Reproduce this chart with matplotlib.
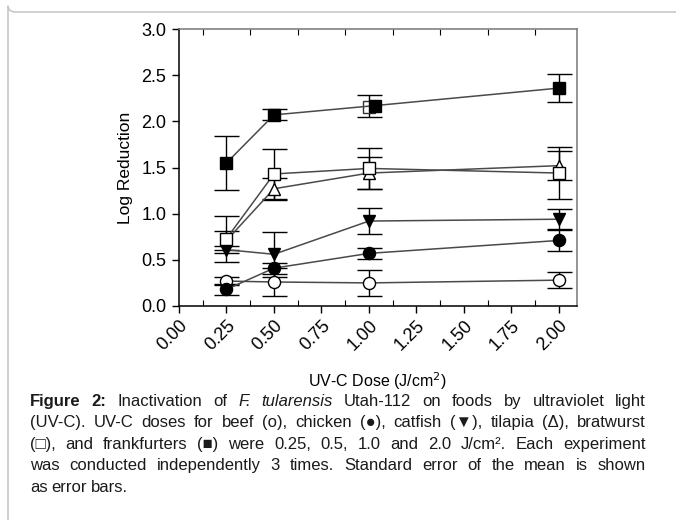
#!/usr/bin/env python3
import numpy as np
import matplotlib
matplotlib.use('Agg')
import matplotlib.pyplot as plt
from matplotlib.patches import FancyBboxPatch

# data (log reduction, SE)
doses = [0.25, 0.5, 1.0, 2.0]
beef = [0.27, 0.26, 0.25, 0.28]
beef_se = [0.04, 0.15, 0.14, 0.085]
chicken = [0.18, 0.41, 0.57, 0.71]
chicken_se = [0.06, 0.06, 0.06, 0.11]
catfish = [0.61, 0.56, 0.92, 0.94]
catfish_se = [0.04, 0.245, 0.14, 0.11]
tilapia = [0.71, 1.27, 1.44, 1.52]
tilapia_se = [0.10, 0.12, 0.17, 0.16]
bratwurst = [0.73, 1.43, 1.49, 1.44]
bratwurst_se = [0.25, 0.27, 0.22, 0.28]
frank_x = [0.25, 0.5, 1.03, 2.0]
frank = [1.55, 2.07, 2.17, 2.36]
frank_se = [0.29, 0.06, 0.12, 0.155]
extra_x = [1.0]
extra_y = [2.16]

xticks = [0, 0.25, 0.5, 0.75, 1.0, 1.25, 1.5, 1.75, 2.0]
yticks = [0, 0.5, 1.0, 1.5, 2.0, 2.5, 3.0]

plt.rcParams['font.family'] = ['Liberation Sans', 'DejaVu Sans']
cap_font = ['Liberation Sans', 'DejaVu Sans']
cap_size = 12

W, H = 676, 520
fig = plt.figure(figsize=(W/100, H/100), dpi=100)

# rounded panel frame
frame = FancyBboxPatch((8/W, 1-12/H), 700/W, -560/H, boxstyle='round,pad=0,rounding_size=0.012',
                       transform=fig.transFigure, fill=False, ec='#c8c8c8', lw=1.2)
fig.patches.append(frame)

ax = fig.add_axes([179/W, 1-306/H, (577-179)/W, (306-29)/H])

series = [
    (doses, beef, beef_se, 'o', 'white'),
    (doses, chicken, chicken_se, 'o', 'black'),
    (doses, catfish, catfish_se, 'v', 'black'),
    (doses, tilapia, tilapia_se, '^', 'white'),
    (doses, bratwurst, bratwurst_se, 's', 'white'),
    (frank_x, frank, frank_se, 's', 'black'),
]
ms = 8.7
for xs, ys, se, mk, fc in series:
    ax.errorbar(doses, ys, yerr=se, fmt='none', ecolor='black', elinewidth=1,
                capsize=9, capthick=1, zorder=2)
for xs, ys, se, mk, fc in series:
    if xs is frank_x:
        ax.plot(extra_x, extra_y, ls='none', marker='s', ms=ms, mfc='white', mec='#333333', mew=1, zorder=3)
    ax.plot(xs, ys, color='#4a4a4a', lw=1.1, marker=mk, ms=ms, mfc=fc, mec='black', mew=1, zorder=4)

ax.set_xlim(0, 2.095)
ax.set_ylim(0, 3.0)
ax.set_xticks(xticks)
ax.set_xticklabels(['%.2f' % v for v in xticks], rotation=45, ha='right', rotation_mode='anchor')
ax.set_xticks(np.arange(0.125, 2.0, 0.25), minor=True)
ax.set_yticks(yticks)
ax.set_yticklabels(['%.1f' % v for v in yticks])
ax.tick_params(axis='both', which='major', labelsize=13, length=5, width=1, color='black')
ax.tick_params(axis='x', which='major', direction='out', pad=3)
ax.tick_params(axis='x', which='minor', direction='in', top=True, bottom=True, length=4, width=0.8)
ax.tick_params(axis='y', which='major', direction='out', pad=4)
for s in ['top', 'right']:
    ax.spines[s].set_color('#777777')
for s in ax.spines.values():
    s.set_linewidth(1.1)

ax.set_ylabel('Log Reduction', fontsize=12.5, labelpad=6)
fig.text(377/W, 1-381/H, 'UV-C Dose (J/cm$^{2}$)', fontsize=11.5, ha='center', va='center',
         family=cap_font)

# justified caption
cap_lines = [
    '**Figure** **2:** Inactivation of _F._ _tularensis_ Utah-112 on foods by ultraviolet light',
    '(UV-C).  UV-C doses for beef (o), chicken (\u25cf), catfish (\u25bc), tilapia (\u0394), bratwurst',
    '(\u25a1), and frankfurters (\u25a0) were 0.25, 0.5, 1.0 and 2.0 J/cm\u00b2. Each experiment',
    'was conducted independently 3 times. Standard error of the mean is shown',
    'as error bars.',
]
cap_left, cap_right = 30, 646
cap_y0, cap_dy = 406, 21.4

fig.canvas.draw()
rend = fig.canvas.get_renderer()

def word_props(w):
    if w.startswith('**'):
        return w.strip('*'), 'bold', 'normal'
    if w.startswith('_') and w.endswith('_'):
        return w[1:-1], 'normal', 'italic'
    return w, 'normal', 'normal'

for i, line in enumerate(cap_lines):
    words = [word_props(w) for w in line.split()]
    arts = []
    for txt, wt, st in words:
        t = fig.text(0, 1-(cap_y0+i*cap_dy)/H, txt, fontsize=cap_size, fontweight=wt, fontstyle=st,
                     family=cap_font, color='#1a1a1a', va='baseline', ha='left')
        arts.append(t)
    widths = [a.get_window_extent(rend).width for a in arts]
    if i < len(cap_lines)-1:
        gap = (cap_right - cap_left - sum(widths)) / (len(arts)-1)
    else:
        gap = 4
    x = cap_left
    for a, w in zip(arts, widths):
        a.set_x(x/W)
        x += w + gap

fig.savefig('out.png', dpi=100)
plt.close()
